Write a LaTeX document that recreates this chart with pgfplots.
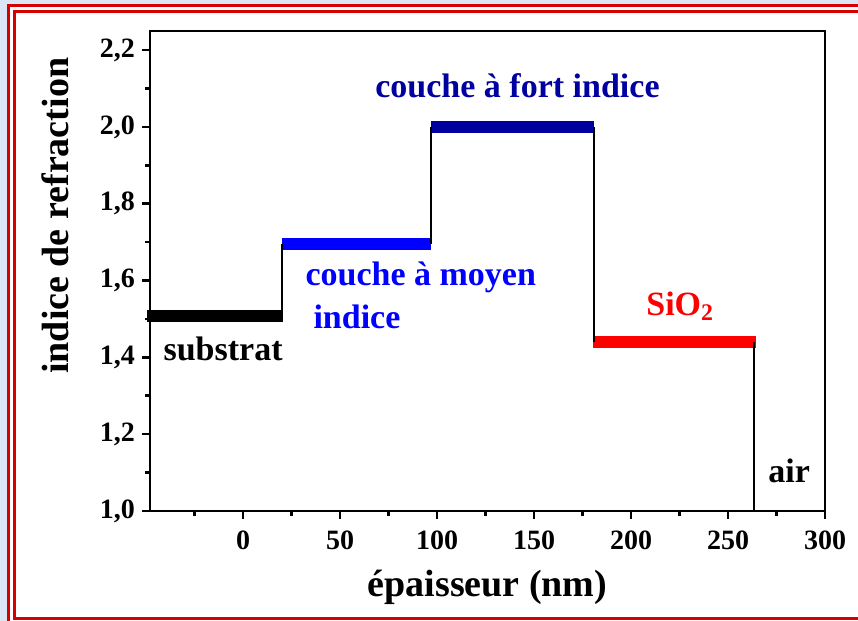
\documentclass[border=0pt]{standalone}
\usepackage{pgfplots}
\pgfplotsset{compat=1.18}
\usepackage{fontspec}
\setmainfont{Liberation Serif}
\definecolor{navyb}{RGB}{0,0,160}
\definecolor{framered}{RGB}{215,0,0}
\definecolor{bgblue}{RGB}{218,230,244}
\begin{document}
\begin{tikzpicture}
\begin{scope}[x=0.5pt,y=0.5pt]
\useasboundingbox (0,0) rectangle (858,621);
\fill[bgblue] (0,0) rectangle (858,621);
\clip (0,0) rectangle (858,621);
\fill[white] (8,-20) rectangle (880,615);
\draw[framered, line width=1.5pt] (8,-20) rectangle (880,615);
\draw[framered, line width=1.5pt] (14,2) rectangle (880,609);
\end{scope}
\begin{axis}[
  at={(75pt,55pt)}, anchor=south west,
  width=337.5pt, height=240pt, scale only axis,
  xmin=-48, xmax=300, ymin=1, ymax=2.25,
  xtick={0,50,100,150,200,250,300},
  minor xtick={-25,25,75,125,175,225,275},
  ytick={1,1.2,1.4,1.6,1.8,2.0,2.2},
  minor ytick={1.1,1.3,1.5,1.7,1.9,2.1},
  tick pos=left, tick align=outside,
  major tick length=4pt, minor tick length=2.5pt,
  every tick/.style={black, line width=1.3pt},
  axis line style={line width=1.4pt},
  /pgf/number format/assume math mode=true,
  ticklabel style={font=\fontsize{14}{16}\selectfont\bfseries},
  yticklabel style={/pgf/number format/.cd,fixed,fixed zerofill,precision=1,use comma},
  xticklabel style={yshift=-2.5pt,/pgf/number format/.cd,fixed,precision=0},
  xlabel={épaisseur (nm)},
  ylabel={indice de refraction},
  label style={font=\fontsize{19}{21}\selectfont\bfseries},
  xlabel style={yshift=-3pt},
  ylabel style={at={(axis description cs:-0.141,0.615)}, anchor=center},
  clip=false,
]
\addplot[black, line width=6pt, line cap=butt] coordinates {(-49.5,1.509) (20.6,1.509)};
\addplot[blue, line width=6pt, line cap=butt] coordinates {(20,1.696) (97,1.696)};
\addplot[navyb, line width=6pt, line cap=butt] coordinates {(97,2.0) (181,2.0)};
\addplot[red, line width=6pt, line cap=butt] coordinates {(180.5,1.439) (264.5,1.439)};
\addplot[black, line width=1.2pt] coordinates {(20,1.509) (20,1.696)};
\addplot[black, line width=1.2pt] coordinates {(97,1.696) (97,2.0)};
\addplot[black, line width=1.2pt] coordinates {(181,2.0) (181,1.439)};
\addplot[black, line width=1.2pt] coordinates {(263.5,1.439) (263.5,1.0)};
\node[anchor=base west, inner sep=0pt, font=\fontsize{17}{19}\selectfont\bfseries, text=black] at (axis cs:-41.2,1.392) {substrat};
\node[anchor=base west, inner sep=0pt, font=\fontsize{17}{19}\selectfont\bfseries, text=blue] at (axis cs:32,1.587) {couche à moyen};
\node[anchor=base west, inner sep=0pt, font=\fontsize{17}{19}\selectfont\bfseries, text=blue] at (axis cs:36.1,1.475) {indice};
\node[anchor=base west, inner sep=0pt, font=\fontsize{17}{19}\selectfont\bfseries, text=navyb] at (axis cs:68,2.078) {couche à fort indice};
\node[anchor=base west, inner sep=0pt, font=\fontsize{17}{19}\selectfont\bfseries, text=red] at (axis cs:207.7,1.509) {SiO\textsubscript{2}};
\node[anchor=base west, inner sep=0pt, font=\fontsize{17}{19}\selectfont\bfseries, text=black] at (axis cs:270.6,1.075) {air};
\end{axis}
\end{tikzpicture}
\end{document}
